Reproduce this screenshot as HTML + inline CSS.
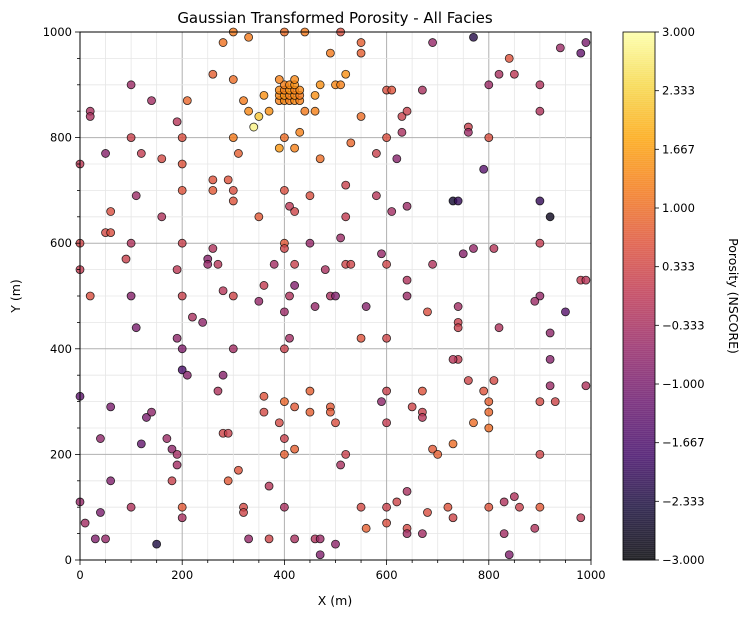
<!DOCTYPE html>
<html><head><meta charset="utf-8"><style>
body{margin:0;background:#fff;font-family:"DejaVu Sans","Liberation Sans",sans-serif;}
svg text{font-family:"DejaVu Sans","Liberation Sans",sans-serif;}
</style></head><body>
<svg id="chart" width="748" height="618" xmlns="http://www.w3.org/2000/svg">
<text x="335" y="23" font-size="15" text-anchor="middle">Gaussian Transformed Porosity - All Facies</text>
<text x="335" y="605" font-size="12.5" text-anchor="middle">X (m)</text>
<text x="20" y="296" font-size="12.5" text-anchor="middle" transform="rotate(-90 20 296)">Y (m)</text>
<text x="729" y="296" font-size="12.5" text-anchor="middle" transform="rotate(90 729 296)">Porosity (NSCORE)</text>
<g id="grid"></g><g id="pts"></g><g id="axes"></g><g id="cbar"></g>
</svg>
<script>
const xs=[20,20,50,100,100,120,140,160,190,200,200,210,260,280,300,330,300,320,300,310,330,340,350,360,370,400,400,390,420,430,440,440,460,460,470,470,490,500,510,520,530,550,550,550,510,580,600,610,600,620,630,630,640,670,690,770,760,760,790,800,800,820,840,850,900,900,940,980,990,
390,400,410,420,430,390,400,410,420,430,390,400,410,420,430,400,410,420,390,420,
0,50,60,60,90,100,0,20,100,110,110,160,200,190,200,200,190,200,200,210,220,240,250,250,260,270,260,260,290,300,300,280,300,300,270,280,350,360,350,380,400,400,400,410,420,420,410,420,400,410,400,450,450,460,480,490,500,510,520,520,520,530,550,560,580,590,610,600,600,640,640,640,680,690,740,740,740,740,730,750,760,770,730,740,810,820,900,920,900,900,890,920,950,980,990,920,920,990,0,
0,0,10,30,40,50,60,60,40,100,120,130,140,150,170,180,190,190,180,200,200,280,290,290,310,320,320,330,360,360,370,370,390,400,400,400,400,420,420,420,450,450,460,470,470,490,490,500,500,510,520,550,560,590,600,600,600,600,620,640,640,640,650,670,670,670,670,680,690,700,720,730,730,770,790,800,800,800,810,800,830,830,840,850,860,890,900,900,900,930,980];
const ys=[850,840,770,900,800,770,870,760,830,800,750,870,920,980,1000,990,910,870,800,770,850,820,840,880,850,1000,800,780,780,810,1000,850,850,880,900,760,960,900,900,920,790,840,980,960,1000,770,890,890,800,760,810,840,850,890,980,990,820,810,740,900,800,920,950,920,900,850,970,960,980,
870,870,870,870,870,880,880,880,880,880,890,890,890,890,890,900,900,900,910,910,
600,620,620,660,570,600,550,500,500,440,690,650,700,550,600,500,420,400,360,350,460,450,570,560,590,560,700,720,720,700,680,510,500,400,320,350,650,520,490,560,700,600,590,670,660,560,500,520,470,420,400,690,600,480,550,500,500,610,710,650,560,560,420,480,690,580,660,560,420,670,530,500,470,560,480,450,440,380,380,580,340,590,680,680,590,440,680,650,600,500,490,430,470,530,530,380,330,330,750,
310,110,70,40,90,40,290,150,230,100,220,270,280,30,230,210,200,180,150,100,80,240,240,150,170,100,90,40,310,280,140,40,260,300,230,200,100,290,210,40,320,280,40,10,40,290,280,260,30,180,200,100,60,300,320,260,100,70,110,130,60,50,290,320,280,270,50,90,210,200,100,220,80,260,320,300,280,250,340,100,50,110,10,120,100,60,200,100,300,300,80];
const vals=[-0.3,-0.3,-0.8,-0.5,0.2,0.1,-0.4,0.4,-0.1,0.5,0.6,0.9,0.8,1.1,1.2,1.2,1.0,1.2,1.2,0.8,1.4,2.8,2.2,1.5,1.5,1.0,1.0,1.6,1.3,1.3,1.2,1.2,1.3,1.5,1.5,1.0,1.2,1.4,1.3,1.5,0.9,1.0,0.8,0.8,0.5,0.2,0.5,0.6,0.5,-0.8,-0.3,0.2,0.2,-0.3,-0.6,-2.2,0.2,-0.5,-1.5,-0.5,0.5,-0.3,0.6,0.0,-0.2,-0.2,-0.5,-1.3,-1.0,
1.3,1.4,1.3,1.4,1.3,1.4,1.5,1.3,1.4,1.2,1.4,1.3,1.5,1.3,1.4,1.3,1.4,1.5,1.3,1.4,
0.3,0.4,0.5,0.5,0.2,-0.2,0.1,0.5,-0.8,-1.0,-0.5,-0.2,0.6,0.0,0.2,0.2,-0.7,-0.9,-1.7,-0.8,-0.3,-0.7,-0.8,-0.6,-0.2,-0.1,0.7,0.6,0.6,0.5,0.6,-0.1,0.3,-0.4,-0.2,-0.8,0.7,0.1,-0.6,-0.4,0.5,0.7,0.3,0.0,0.3,0.2,-0.2,-0.9,-0.5,-0.4,0.2,0.5,-0.6,-0.6,-0.3,-0.3,-0.9,-0.5,0.2,0.1,0.3,0.3,0.6,-0.8,-0.1,-0.6,-0.4,0.3,0.3,-0.5,-0.2,-0.5,0.5,-0.2,-0.4,0.2,0.2,0.1,-0.1,-0.8,0.3,-0.6,-2.5,-2.0,-0.1,-0.2,-2.0,-2.7,0.1,-0.6,-0.5,-0.7,-1.5,0.1,-0.1,-0.8,-0.5,-0.2,0.0,
-1.4,-0.6,-0.4,-0.9,-1.0,-0.6,-1.0,-0.9,-0.7,-0.2,-1.3,-1.0,-0.7,-2.3,-0.5,-0.7,-0.4,-0.4,0.2,0.7,-0.3,0.3,0.2,0.7,0.6,0.4,0.3,-0.6,0.6,0.4,-0.1,0.3,0.4,0.9,0.2,0.8,-0.3,0.7,0.8,-0.3,0.8,0.8,-0.2,-0.9,-0.5,0.7,0.7,0.5,-0.7,-0.3,0.2,0.4,0.8,-0.7,0.2,0.1,0.2,0.5,0.3,-0.3,0.4,-0.4,0.3,0.6,0.2,-0.1,-0.4,0.5,0.7,0.8,0.6,1.0,0.3,1.0,0.6,0.8,0.9,1.0,0.4,0.6,-0.4,-0.2,-0.9,-0.2,0.2,-0.2,0.3,0.7,0.4,0.3,0.0];
const xTicks=[0,200,400,600,800,1000];
const yTicks=[0,200,400,600,800,1000];
const cTicks=["-3.000","-2.333","-1.667","-1.000","-0.333","0.333","1.000","1.667","2.333","3.000"];
const NS="http://www.w3.org/2000/svg";
const X0=80,X1=591,Y0=560,Y1=32;
const sx=v=>X0+(v/1000)*(X1-X0), sy=v=>Y0-(v/1000)*(Y0-Y1);
const stops=[[0,0,4],[22,11,57],[66,10,104],[106,23,110],[147,38,103],[188,55,84],[221,81,58],[243,120,25],[252,165,10],[246,215,70],[252,255,164]];
function cmap(v){let t=Math.max(0,Math.min(1,(v+3)/6))*10;let i=Math.min(9,Math.floor(t)),f=t-i;const a=stops[i],b=stops[i+1];
return `rgb(${Math.round(a[0]+(b[0]-a[0])*f)},${Math.round(a[1]+(b[1]-a[1])*f)},${Math.round(a[2]+(b[2]-a[2])*f)})`;}
function mk(t,at,parent){const e=document.createElementNS(NS,t);for(const k in at)e.setAttribute(k,at[k]);document.getElementById(parent).appendChild(e);return e;}
for(let v=0;v<=1000;v+=50){const major=v%200===0;
let l=mk('line',{x1:sx(v),x2:sx(v),y1:Y1,y2:Y0,stroke:major?'#b0b0b0':'#e6e6e6','stroke-width':major?1:0.8},'grid');


let m=mk('line',{x1:X0,x2:X1,y1:sy(v),y2:sy(v),stroke:major?'#b0b0b0':'#e6e6e6','stroke-width':major?1:0.8},'grid');


let tx=mk('line',{x1:sx(v),x2:sx(v),y1:Y0,y2:Y0+(major?5:3),stroke:'#000','stroke-width':0.8},'axes');


let ty=mk('line',{x1:X0,x2:X0-(major?5:3),y1:sy(v),y2:sy(v),stroke:'#000','stroke-width':0.8},'axes');

}
for(let i=0;i<xs.length;i++){const c=mk('circle',{cx:sx(xs[i]),cy:sy(ys[i]),r:4,fill:cmap(vals[i]),'fill-opacity':0.8,stroke:'#000','stroke-opacity':0.8,'stroke-width':0.8},'pts');

}
const fr=mk('rect',{x:X0,y:Y1,width:X1-X0,height:Y0-Y1,fill:'none',stroke:'#000','stroke-width':1},'axes');


xTicks.forEach(v=>{const t=mk('text',{x:sx(v),y:Y0+19,'font-size':11.5,'text-anchor':'middle'},'axes');t.textContent=v;

});
yTicks.forEach(v=>{const t=mk('text',{x:X0-8,y:sy(v)+4,'font-size':11.5,'text-anchor':'end'},'axes');t.textContent=v;

});
const CX=623,CW=32;
for(let k=0;k<264;k++){const v=-3+6*(k+0.5)/264;const r=mk('rect',{x:CX,y:Y0-(k+1)*2,width:CW,height:2.3,fill:cmap(v),'fill-opacity':0.8},'cbar');

}
const cf=mk('rect',{x:CX,y:Y1,width:CW,height:Y0-Y1,fill:'none',stroke:'#000','stroke-width':0.8},'cbar');


cTicks.forEach(s=>{const v=parseFloat(s);const y=Y0-(v+3)/6*(Y0-Y1);
const l=mk('line',{x1:CX+CW,x2:CX+CW+4,y1:y,y2:y,stroke:'#000','stroke-width':0.8},'cbar');


const t=mk('text',{x:CX+CW+7,y:y+4,'font-size':11.5},'cbar');t.textContent=s.replace('-','\u2212');

});
</script>
</body></html>
